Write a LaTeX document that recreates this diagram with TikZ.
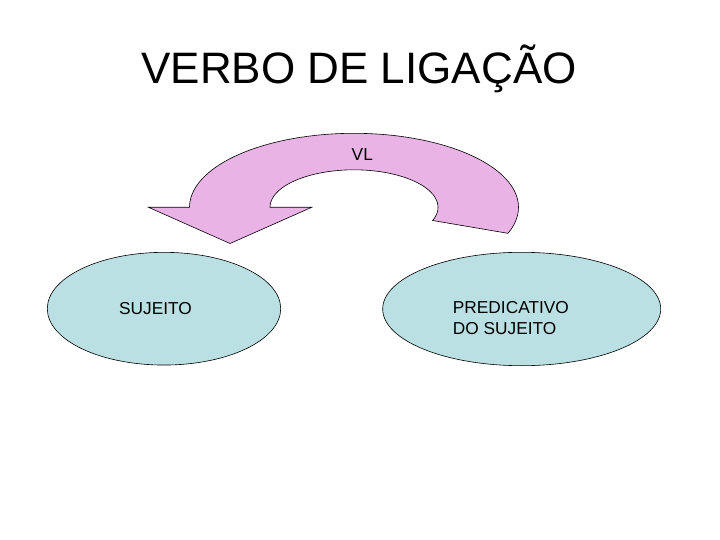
\documentclass[tikz,border=0pt]{standalone}
\usepackage{fontspec}
\setmainfont{Liberation Sans}
\usetikzlibrary{shapes.geometric, positioning}

\definecolor{arrowpink}{RGB}{233,179,230}
\definecolor{ellblue}{RGB}{187,224,227}

\begin{document}
\begin{tikzpicture}[x=1pt, y=-1pt,
    part/.style={ellipse, draw, line width=0.6pt, fill=ellblue, inner sep=0pt},
    lbl/.style={font=\fontsize{17.3}{21}\selectfont, inner sep=0pt, align=left}]
            \useasboundingbox (0,0) rectangle (720,540);

            % Title
            \node[anchor=base, font=\fontsize{44}{50}\selectfont, inner sep=0pt] (title) at (359,83.3) {VERBO DE LIGAÇÃO};

            % Curved arrow
            \draw[line width=0.6pt, fill=arrowpink, line join=miter]
                (148.5,207.3) -- (189.5,207.3)
                -- plot[domain=180:-20.6, samples=80] ({354+164.5*cos(\x)},{207.3-74*sin(\x)})
                -- plot[domain=-20.6:180, samples=60] ({354+84*cos(\x)},{207.3-37.5*sin(\x)})
                -- (311.7,207.3) -- (230,243.5) -- cycle;
            \node[lbl, anchor=base] (vl) at (362.3,161) {VL};

            % Objects
            \node[part, minimum width=233.4pt, minimum height=112.7pt] (suj) at (164,308.7) {};
            \node[part, minimum width=278pt, minimum height=113.4pt] (pred) at (521.7,309) {};

            % Labels
            \node[lbl, anchor=base west] (sujtext) at (119,314) {SUJEITO};
            \node[lbl, anchor=north west, text depth=0pt] (predtext) at (452.7,301.7) {PREDICATIVO\\DO SUJEITO};
        \end{tikzpicture}
\end{document}
